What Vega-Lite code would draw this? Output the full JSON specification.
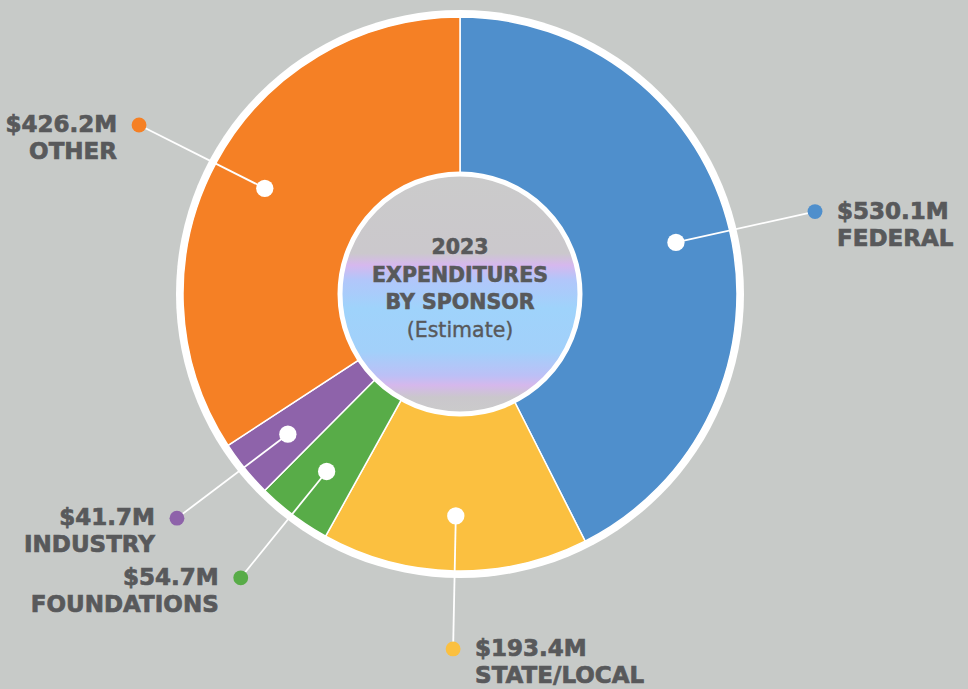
{
  "$schema": "https://vega.github.io/schema/vega-lite/v6.json",
  "width": 920,
  "height": 588,
  "autosize": {"type": "none"},
  "padding": {"left": 0, "top": 0, "right": 48, "bottom": 101},
  "background": "#c7cac8",
  "config": {"view": {"stroke": null}},
  "datasets": {
    "sp": [
      {"k": 1, "sponsor": "FEDERAL", "value": 530.1},
      {"k": 2, "sponsor": "STATE/LOCAL", "value": 193.4},
      {"k": 3, "sponsor": "FOUNDATIONS", "value": 54.7},
      {"k": 4, "sponsor": "INDUSTRY", "value": 41.7},
      {"k": 5, "sponsor": "OTHER", "value": 426.2}
    ]
  },
  "layer": [
    {
      "data": {"values": [{}]},
      "mark": {"type": "arc", "outerRadius": 284, "innerRadius": 0, "theta": 0, "theta2": 6.2832, "fill": "#ffffff"},
      "encoding": {}
    },
    {
      "data": {"name": "sp"},
      "mark": {"type": "arc", "outerRadius": 277, "innerRadius": 118, "stroke": "#ffffff", "strokeWidth": 1.5},
      "encoding": {
        "theta": {"field": "value", "type": "quantitative", "stack": true},
        "order": {"field": "k", "type": "quantitative"},
        "color": {
          "field": "sponsor", "type": "nominal",
          "scale": {"domain": ["FEDERAL", "STATE/LOCAL", "FOUNDATIONS", "INDUSTRY", "OTHER"], "range": ["#4f8fcc", "#fbc040", "#58ac48", "#8e63aa", "#f58025"]},
          "legend": null
        }
      }
    },
    {
      "data": {"values": [{}]},
      "mark": {
        "type": "arc", "outerRadius": 120, "innerRadius": 0, "theta": 0, "theta2": 6.2832,
        "stroke": "#ffffff", "strokeWidth": 5,
        "fill": {
          "gradient": "linear", "x1": 0, "y1": 0, "x2": 0, "y2": 1,
          "stops": [
            {"offset": 0, "color": "#cbcbcb"},
            {"offset": 0.33, "color": "#cbc8cc"},
            {"offset": 0.38, "color": "#d6b8ee"},
            {"offset": 0.44, "color": "#b2c6fa"},
            {"offset": 0.56, "color": "#9fd3fb"},
            {"offset": 0.74, "color": "#a2d0fa"},
            {"offset": 0.84, "color": "#bcc0f6"},
            {"offset": 0.88, "color": "#d5b8ec"},
            {"offset": 0.93, "color": "#cac7cc"},
            {"offset": 1, "color": "#cbcbcb"}
          ]
        }
      },
      "encoding": {}
    },
    {
      "data": {"values": [{}]},
      "mark": {"type": "text", "text": "2023", "dy": -46, "baseline": "middle", "align": "center", "font": "DejaVu Sans", "fontWeight": "bold", "fontSize": 20.5, "fill": "#58595b", "stroke": "#58595b", "strokeWidth": 0.6},
      "encoding": {
        "x": {"datum": 0, "type": "quantitative", "scale": {"domain": [-460, 460]}, "axis": null},
        "y": {"datum": 0, "type": "quantitative", "scale": {"domain": [-294, 294]}, "axis": null}
      }
    },
    {
      "data": {"values": [{}]},
      "mark": {"type": "text", "text": "EXPENDITURES", "dy": -18, "baseline": "middle", "align": "center", "font": "DejaVu Sans", "fontWeight": "bold", "fontSize": 20.5, "fill": "#58595b", "stroke": "#58595b", "strokeWidth": 0.6},
      "encoding": {
        "x": {"datum": 0, "type": "quantitative", "scale": {"domain": [-460, 460]}, "axis": null},
        "y": {"datum": 0, "type": "quantitative", "scale": {"domain": [-294, 294]}, "axis": null}
      }
    },
    {
      "data": {"values": [{}]},
      "mark": {"type": "text", "text": "BY SPONSOR", "dy": 9, "baseline": "middle", "align": "center", "font": "DejaVu Sans", "fontWeight": "bold", "fontSize": 20.5, "fill": "#58595b", "stroke": "#58595b", "strokeWidth": 0.6},
      "encoding": {
        "x": {"datum": 0, "type": "quantitative", "scale": {"domain": [-460, 460]}, "axis": null},
        "y": {"datum": 0, "type": "quantitative", "scale": {"domain": [-294, 294]}, "axis": null}
      }
    },
    {
      "data": {"values": [{}]},
      "mark": {"type": "text", "text": "(Estimate)", "dy": 37, "baseline": "middle", "align": "center", "font": "DejaVu Sans", "fontWeight": "normal", "fontSize": 20.5, "fill": "#58595b", "stroke": "#58595b", "strokeWidth": 0.4},
      "encoding": {
        "x": {"datum": 0, "type": "quantitative", "scale": {"domain": [-460, 460]}, "axis": null},
        "y": {"datum": 0, "type": "quantitative", "scale": {"domain": [-294, 294]}, "axis": null}
      }
    },
    {
      "data": {"name": "sp"},
      "transform": [
        {"joinaggregate": [{"op": "sum", "field": "value", "as": "total"}]},
        {"window": [{"op": "sum", "field": "value", "as": "cum"}], "sort": [{"field": "k"}], "frame": [null, 0]},
        {"calculate": "2*PI*(datum.cum - datum.value/2)/datum.total", "as": "mid"},
        {"calculate": "222*sin(datum.mid)", "as": "x1"},
        {"calculate": "222*cos(datum.mid)", "as": "y1"},
        {"calculate": "365*sin(datum.mid)", "as": "x2"},
        {"calculate": "355*cos(datum.mid)", "as": "y2"},
        {"calculate": "'$' + format(datum.value, '.1f') + 'M'", "as": "amt"},
        {"calculate": "datum.mid < 3.3 ? 'R' : 'L'", "as": "side"}
      ],
      "layer": [
        {
          "mark": {"type": "rule", "stroke": "#ffffff", "strokeWidth": 1.8},
          "encoding": {
            "x": {"field": "x1", "type": "quantitative", "scale": {"domain": [-460, 460]}, "axis": null},
            "y": {"field": "y1", "type": "quantitative", "scale": {"domain": [-294, 294]}, "axis": null},
            "x2": {"field": "x2"},
            "y2": {"field": "y2"}
          }
        },
        {
          "mark": {"type": "point", "filled": true, "size": 300, "color": "#ffffff", "opacity": 1},
          "encoding": {
            "x": {"field": "x1", "type": "quantitative", "scale": {"domain": [-460, 460]}, "axis": null},
            "y": {"field": "y1", "type": "quantitative", "scale": {"domain": [-294, 294]}, "axis": null}
          }
        },
        {
          "mark": {"type": "point", "filled": true, "size": 220, "opacity": 1},
          "encoding": {
            "x": {"field": "x2", "type": "quantitative", "scale": {"domain": [-460, 460]}, "axis": null},
            "y": {"field": "y2", "type": "quantitative", "scale": {"domain": [-294, 294]}, "axis": null},
            "color": {"field": "sponsor", "type": "nominal", "legend": null}
          }
        },
        {
          "transform": [{"filter": "datum.side == 'R'"}],
          "mark": {"type": "text", "align": "left", "baseline": "middle", "dx": 22, "dy": 0, "font": "DejaVu Sans", "fontWeight": "bold", "fontSize": 23, "fill": "#58595b", "stroke": "#58595b", "strokeWidth": 0.7},
          "encoding": {
            "x": {"field": "x2", "type": "quantitative", "scale": {"domain": [-460, 460]}, "axis": null},
            "y": {"field": "y2", "type": "quantitative", "scale": {"domain": [-294, 294]}, "axis": null},
            "text": {"field": "amt", "type": "nominal"}
          }
        },
        {
          "transform": [{"filter": "datum.side == 'R'"}],
          "mark": {"type": "text", "align": "left", "baseline": "middle", "dx": 22, "dy": 27, "font": "DejaVu Sans", "fontWeight": "bold", "fontSize": 23, "fill": "#58595b", "stroke": "#58595b", "strokeWidth": 0.7},
          "encoding": {
            "x": {"field": "x2", "type": "quantitative", "scale": {"domain": [-460, 460]}, "axis": null},
            "y": {"field": "y2", "type": "quantitative", "scale": {"domain": [-294, 294]}, "axis": null},
            "text": {"field": "sponsor", "type": "nominal"}
          }
        },
        {
          "transform": [{"filter": "datum.side == 'L'"}],
          "mark": {"type": "text", "align": "right", "baseline": "middle", "dx": -22, "dy": 0, "font": "DejaVu Sans", "fontWeight": "bold", "fontSize": 23, "fill": "#58595b", "stroke": "#58595b", "strokeWidth": 0.7},
          "encoding": {
            "x": {"field": "x2", "type": "quantitative", "scale": {"domain": [-460, 460]}, "axis": null},
            "y": {"field": "y2", "type": "quantitative", "scale": {"domain": [-294, 294]}, "axis": null},
            "text": {"field": "amt", "type": "nominal"}
          }
        },
        {
          "transform": [{"filter": "datum.side == 'L'"}],
          "mark": {"type": "text", "align": "right", "baseline": "middle", "dx": -22, "dy": 27, "font": "DejaVu Sans", "fontWeight": "bold", "fontSize": 23, "fill": "#58595b", "stroke": "#58595b", "strokeWidth": 0.7},
          "encoding": {
            "x": {"field": "x2", "type": "quantitative", "scale": {"domain": [-460, 460]}, "axis": null},
            "y": {"field": "y2", "type": "quantitative", "scale": {"domain": [-294, 294]}, "axis": null},
            "text": {"field": "sponsor", "type": "nominal"}
          }
        }
      ]
    }
  ]
}
